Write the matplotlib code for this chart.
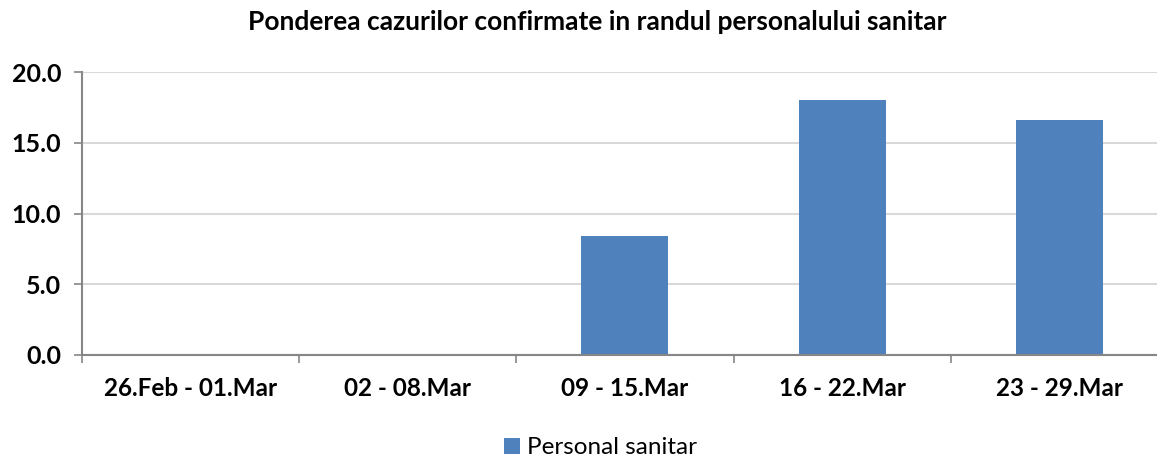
import numpy as np
import matplotlib.pyplot as plt
from matplotlib.ticker import FixedLocator

# data
categories = ['26.Feb - 01.Mar', '02 - 08.Mar', '09 - 15.Mar', '16 - 22.Mar', '23 - 29.Mar']
values = [0.0, 0.0, 8.4, 18.0, 16.6]
series_name = 'Personal sanitar'
title = 'Ponderea cazurilor confirmate in randul personalului sanitar'

plt.rcParams['font.family'] = ['Lato', 'DejaVu Sans']

fig = plt.figure(figsize=(11.57, 4.57), dpi=100)
ax = fig.add_axes([82 / 1157, 102 / 457, 1075 / 1157, 283 / 457])

x = np.arange(len(categories))
ax.bar(x, values, width=0.4, color='#4f81bd', label=series_name, zorder=3)

ax.set_xlim(-0.5, 4.45)
ax.set_ylim(0, 20)
ax.set_yticks([0, 5, 10, 15, 20])
ax.set_yticklabels(['%.1f' % v for v in [0, 5, 10, 15, 20]],
                   fontsize=18, fontweight='bold')
ax.set_xticks(x)
ax.set_xticklabels(categories, fontsize=17.5, fontweight='bold')
ax.xaxis.set_minor_locator(FixedLocator(np.arange(len(categories) + 1) - 0.5))

ax.tick_params(axis='x', which='major', length=0, pad=16)
ax.tick_params(axis='x', which='minor', length=6, color='#868686', width=1.2)
ax.tick_params(axis='y', length=6, color='#868686', width=1.2, pad=9)

ax.grid(axis='y', color='#d9d9d9', linewidth=1.5, zorder=0)
for s in ['top', 'right']:
    ax.spines[s].set_visible(False)
for s in ['left', 'bottom']:
    ax.spines[s].set_color('#868686')
    ax.spines[s].set_linewidth(1.5)
ax.spines['bottom'].set_zorder(4)

fig.text(0.516, 1 - 22 / 457, title, ha='center', va='center',
         fontsize=19, fontweight='bold')

leg = fig.legend(loc='center', bbox_to_anchor=(0.519, 1 - 448 / 457), frameon=False,
                 fontsize=17.5, handlelength=0.65, handleheight=0.65, handletextpad=0.3)

fig.savefig('out.png', dpi=100)
